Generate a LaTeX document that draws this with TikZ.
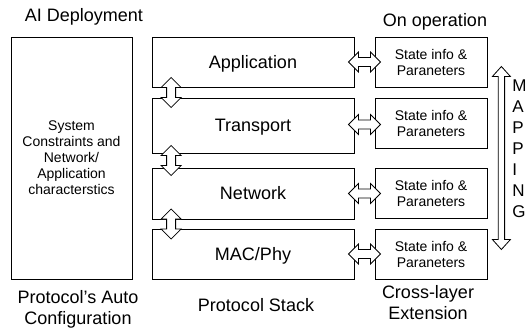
\documentclass[tikz,border=0pt]{standalone}
\usepackage{fontspec}
\setmainfont{Liberation Sans}
\usetikzlibrary{calc}
\begin{document}
\begin{tikzpicture}[x=1pt,y=-1pt,
  line width=0.8pt,
  bigtext/.style={font=\fontsize{18}{21}\selectfont, inner sep=0pt},
  capline/.style={text height=12.9pt, text depth=0pt},
  smalltext/.style={font=\fontsize{14}{16}\selectfont, align=center},
  layerbox/.style={draw, minimum width=202pt, inner sep=0pt,
    font=\fontsize{18}{21}\selectfont, text height=12.9pt, text depth=0pt},
  statebox/.style={draw, minimum width=112pt, minimum height=50pt,
    inner sep=0pt, smalltext},
  blockarrow/.style={draw, fill=white, line join=miter},
  vdbl/.pic={\draw[blockarrow] (0,-15) -- (10,-5) -- (4.5,-5) -- (4.5,5)
    -- (10,5) -- (0,15) -- (-10,5) -- (-4.5,5) -- (-4.5,-5) -- (-10,-5) -- cycle;},
  hdbl/.pic={\draw[blockarrow] (-16,0) -- (-6,-10) -- (-6,-4.5) -- (6,-4.5)
    -- (6,-10) -- (16,0) -- (6,10) -- (6,4.5) -- (-6,4.5) -- (-6,10) -- cycle;},
]
\useasboundingbox (0,0) rectangle (526,331);

% auto-configuration block
\node[draw, minimum width=121pt, minimum height=242pt, inner sep=0pt, smalltext]
  (cfg) at (71.5,158) {System\\Constraints and\\Network/\\Application\\characterstics};

% protocol stack
\node[layerbox, minimum height=50pt] (app) at (253,62) {Application};
\node[layerbox, minimum height=55pt] (trn) at (253,125.5) {Transport};
\node[layerbox, minimum height=51pt] (net) at (253,193.5) {Network};
\node[layerbox, minimum height=50pt] (mac) at (253,254) {MAC/Phy};

% cross-layer state boxes
\node[statebox] (s1) at (431,62) {State info \&\\Paraneters};
\node[statebox] (s2) at (431,123.5) {State info \&\\Paraneters};
\node[statebox] (s3) at (431,193.5) {State info \&\\Paraneters};
\node[statebox] (s4) at (431,254) {State info \&\\Paraneters};

% inter-layer arrows
\pic at ($(app.south west)!.5!(trn.north west)+(19.5,0)$) {vdbl};
\pic at ($(trn.south west)!.5!(net.north west)+(19.5,0)$) {vdbl};
\pic at ($(net.south west)!.5!(mac.north west)+(19.5,0)$) {vdbl};

% layer <-> state arrows
\pic at ($(app.east)!.5!(s1.west)$) {hdbl};
\pic at ($(trn.east)!.5!(s2.west)$) {hdbl};
\pic at ($(net.east)!.5!(s3.west)$) {hdbl};
\pic at ($(mac.east)!.5!(s4.west)$) {hdbl};

% mapping arrow
\coordinate (mapc) at ($(s1.east)!.5!(s4.east)+(14,0)$);
\draw[blockarrow, shift={(mapc)}] (0,-91.5) -- (9,-81.5) -- (3.2,-81.5) -- (3.2,81.5)
  -- (9,81.5) -- (0,91.5) -- (-9,81.5) -- (-3.2,81.5) -- (-3.2,-81.5) -- (-9,-81.5) -- cycle;
\node[font=\fontsize{17}{21}\selectfont, align=left, anchor=north west, inner sep=0pt]
  (mapping) at (512,79) {M\\A\\P\\P\\I\\N\\G};

% captions
\node[bigtext, capline] (aidep) at (84,15) {AI Deployment};
\node[bigtext, capline] (onop) at (435,20) {On operation};
\node[bigtext, capline] (pstack) at (256,305) {Protocol Stack};
\node[bigtext, align=center, anchor=north] (autocfg) at (78,290.5) {Protocol’s Auto\\Configuration};
\node[bigtext, align=center, anchor=north] (xlayer) at (428,285.5) {Cross-layer\\Extension};
\end{tikzpicture}
\end{document}
